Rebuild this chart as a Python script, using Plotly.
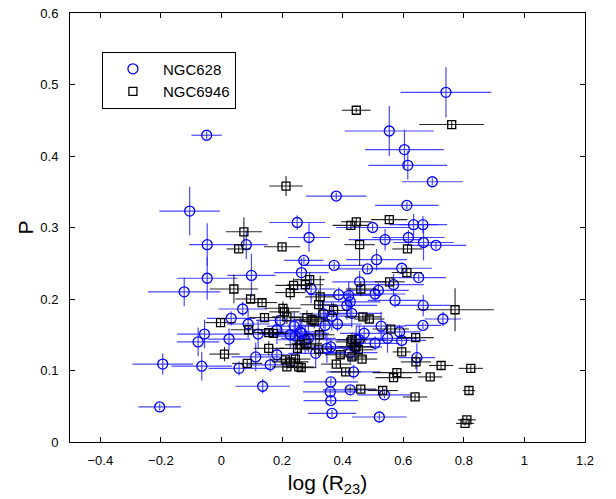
import plotly.graph_objects as go

# NGC628 (blue circles): log(R23), P, x-error, y-error
n628_x = [-0.049, 0.741, 0.554, 0.604, 0.615, 0.696, 0.379, 0.612, 0.634, 0.665,
          0.499, -0.105, 0.25, -0.047, 0.082, 0.289, 0.272, 0.264, 0.372, 0.099,
          -0.047, -0.123, 0.07, 0.032, 0.088, -0.056, -0.077, 0.025, 0.121, -0.194,
          -0.065, 0.058, 0.113, 0.161, 0.183, 0.136, -0.204, 0.361, 0.359, 0.361,
          0.365, 0.194, 0.24, 0.26, 0.183, 0.311, 0.361, 0.337, 0.387, 0.383,
          0.296, 0.42, 0.425, 0.43, 0.44, 0.436, 0.425, 0.445, 0.54, 0.617,
          0.667, 0.708, 0.512, 0.482, 0.595, 0.651, 0.568, 0.456, 0.518, 0.507,
          0.573, 0.666, 0.731, 0.665, 0.527, 0.588, 0.471, 0.548, 0.595, 0.507,
          0.455, 0.645, 0.538, 0.521, 0.414, 0.227, 0.244, 0.265, 0.276, 0.287,
          0.348, 0.342, 0.364, 0.425]
n628_y = [0.429, 0.489, 0.435, 0.409, 0.387, 0.364, 0.344, 0.331, 0.304, 0.304,
          0.300, 0.323, 0.307, 0.276, 0.276, 0.286, 0.254, 0.237, 0.247, 0.233,
          0.229, 0.210, 0.186, 0.173, 0.165, 0.151, 0.140, 0.144, 0.151, 0.109,
          0.106, 0.103, 0.119, 0.108, 0.122, 0.078, 0.049, 0.084, 0.070, 0.058,
          0.040, 0.170, 0.162, 0.154, 0.157, 0.124, 0.133, 0.179, 0.206, 0.165,
          0.214, 0.205, 0.196, 0.180, 0.133, 0.098, 0.073, 0.143, 0.283, 0.286,
          0.279, 0.275, 0.255, 0.242, 0.243, 0.230, 0.220, 0.224, 0.212, 0.207,
          0.198, 0.191, 0.172, 0.163, 0.162, 0.154, 0.152, 0.145, 0.142, 0.138,
          0.143, 0.118, 0.066, 0.035, 0.191, 0.150, 0.148, 0.152, 0.143, 0.145,
          0.131, 0.163, 0.176, 0.125]
n628_ex = [0.05, 0.15, 0.147, 0.13, 0.13, 0.10, 0.10, 0.105, 0.08, 0.08,
           0.12, 0.10, 0.092, 0.06, 0.07, 0.07, 0.065, 0.09, 0.10, 0.08,
           0.10, 0.12, 0.08, 0.08, 0.07, 0.09, 0.07, 0.07, 0.10, 0.10,
           0.10, 0.10, 0.08, 0.08, 0.07, 0.09, 0.07, 0.09, 0.09, 0.09,
           0.08, 0.08, 0.09, 0.08, 0.08, 0.09, 0.09, 0.08, 0.10, 0.08,
           0.08, 0.10, 0.10, 0.10, 0.09, 0.09, 0.09, 0.10, 0.12, 0.12,
           0.10, 0.10, 0.10, 0.10, 0.10, 0.09, 0.10, 0.09, 0.10, 0.10,
           0.09, 0.09, 0.06, 0.06, 0.08, 0.07, 0.08, 0.10, 0.08, 0.08,
           0.08, 0.06, 0.09, 0.09, 0.10, 0.09, 0.09, 0.09, 0.09, 0.09,
           0.09, 0.09, 0.08, 0.09]
n628_ey = [0.005, 0.035, 0.035, 0.028, 0.02, 0.005, 0.005, 0.005, 0.015, 0.012,
           0.005, 0.034, 0.01, 0.03, 0.02, 0.02, 0.005, 0.02, 0.005, 0.03,
           0.03, 0.02, 0.01, 0.01, 0.02, 0.02, 0.02, 0.015, 0.02, 0.015,
           0.02, 0.01, 0.02, 0.01, 0.01, 0.01, 0.005, 0.005, 0.005, 0.005,
           0.005, 0.02, 0.02, 0.02, 0.02, 0.02, 0.01, 0.02, 0.01, 0.01,
           0.02, 0.02, 0.02, 0.02, 0.02, 0.01, 0.005, 0.02, 0.015, 0.01,
           0.025, 0.005, 0.015, 0.005, 0.005, 0.005, 0.015, 0.015, 0.01, 0.01,
           0.01, 0.015, 0.01, 0.005, 0.02, 0.01, 0.01, 0.02, 0.01, 0.01,
           0.02, 0.02, 0.005, 0.005, 0.02, 0.02, 0.02, 0.02, 0.02, 0.02,
           0.02, 0.02, 0.02, 0.015]

# NGC6946 (black squares)
n6946_x = [0.445, 0.76, 0.445, 0.427, 0.554, 0.213, 0.074, 0.057, 0.2, 0.041,
           0.096, 0.134, 0.238, 0.227, 0.291, 0.277, 0.326, 0.321, 0.203, 0.208,
           0.216, 0.142, -0.003, 0.09, 0.156, 0.172, 0.282, 0.299, 0.306, 0.37,
           0.156, 0.01, 0.085, 0.211, 0.227, 0.263, 0.251, 0.26, 0.282, 0.321,
           0.379, 0.392, 0.456, 0.614, 0.612, 0.555, 0.46, 0.771, 0.467, 0.488,
           0.559, 0.641, 0.427, 0.444, 0.452, 0.431, 0.464, 0.41, 0.595, 0.642,
           0.725, 0.823, 0.579, 0.568, 0.689, 0.46, 0.532, 0.639, 0.817, 0.81,
           0.804, 0.244, 0.255, 0.216, 0.323, 0.431]
n6946_y = [0.464, 0.444, 0.308, 0.303, 0.311, 0.358, 0.294, 0.270, 0.273, 0.214,
           0.200, 0.195, 0.219, 0.209, 0.227, 0.220, 0.203, 0.192, 0.187, 0.182,
           0.175, 0.174, 0.167, 0.157, 0.153, 0.152, 0.174, 0.171, 0.169, 0.184,
           0.131, 0.123, 0.110, 0.115, 0.112, 0.104, 0.131, 0.136, 0.138, 0.130,
           0.109, 0.122, 0.276, 0.270, 0.237, 0.224, 0.214, 0.185, 0.175, 0.172,
           0.158, 0.146, 0.140, 0.133, 0.129, 0.119, 0.116, 0.098, 0.126, 0.112,
           0.107, 0.103, 0.097, 0.090, 0.091, 0.074, 0.072, 0.063, 0.072, 0.031,
           0.026, 0.116, 0.105, 0.105, 0.150, 0.143]
n6946_ex = [0.047, 0.107, 0.05, 0.06, 0.06, 0.055, 0.06, 0.04, 0.06, 0.08,
            0.05, 0.05, 0.06, 0.05, 0.05, 0.06, 0.05, 0.06, 0.06, 0.05,
            0.05, 0.05, 0.05, 0.06, 0.05, 0.05, 0.06, 0.06, 0.05, 0.05,
            0.05, 0.05, 0.05, 0.05, 0.06, 0.05, 0.06, 0.05, 0.05, 0.05,
            0.05, 0.05, 0.05, 0.05, 0.05, 0.05, 0.05, 0.128, 0.06, 0.05,
            0.06, 0.06, 0.05, 0.06, 0.05, 0.05, 0.05, 0.05, 0.03, 0.05,
            0.04, 0.04, 0.08, 0.06, 0.04, 0.05, 0.05, 0.04, 0.02, 0.03,
            0.03, 0.05, 0.05, 0.05, 0.05, 0.05]
n6946_ey = [0.003, 0.005, 0.005, 0.005, 0.005, 0.014, 0.02, 0.005, 0.005, 0.02,
            0.005, 0.005, 0.01, 0.01, 0.01, 0.01, 0.03, 0.02, 0.01, 0.01,
            0.01, 0.005, 0.005, 0.005, 0.005, 0.005, 0.01, 0.01, 0.01, 0.01,
            0.01, 0.01, 0.005, 0.005, 0.005, 0.005, 0.02, 0.01, 0.01, 0.01,
            0.005, 0.005, 0.03, 0.005, 0.005, 0.005, 0.01, 0.03, 0.005, 0.005,
            0.005, 0.005, 0.01, 0.01, 0.01, 0.005, 0.005, 0.005, 0.005, 0.01,
            0.005, 0.005, 0.005, 0.005, 0.005, 0.005, 0.005, 0.005, 0.005, 0.005,
            0.003, 0.005, 0.005, 0.005, 0.01, 0.01]

x_ticks = [-0.4, -0.2, 0, 0.2, 0.4, 0.6, 0.8, 1, 1.2]
x_tick_text = ["\u22120.4", "\u22120.2", "0", "0.2", "0.4", "0.6", "0.8", "1", "1.2"]
y_ticks = [0, 0.1, 0.2, 0.3, 0.4, 0.5, 0.6]
y_tick_text = ["0", "0.1", "0.2", "0.3", "0.4", "0.5", "0.6"]

FONT = "Liberation Sans, Arial, Helvetica, sans-serif"

fig = go.Figure()
fig.add_trace(go.Scatter(
    x=n628_x, y=n628_y, mode="markers", name="NGC628",
    marker=dict(symbol="circle-open", size=10, color="#0000ff", line=dict(width=1.3, color="#0000ff")),
    error_x=dict(type="data", array=n628_ex, color="rgba(40,40,255,0.85)", thickness=1.2, width=0),
    error_y=dict(type="data", array=n628_ey, color="rgba(40,40,255,0.85)", thickness=1.2, width=0),
))
fig.add_trace(go.Scatter(
    x=n6946_x, y=n6946_y, mode="markers", name="NGC6946",
    marker=dict(symbol="square-open", size=8, color="#000000", line=dict(width=1.3, color="#000000")),
    error_x=dict(type="data", array=n6946_ex, color="rgba(0,0,0,0.85)", thickness=1.1, width=0),
    error_y=dict(type="data", array=n6946_ey, color="rgba(0,0,0,0.85)", thickness=1.1, width=0),
))

axis_common = dict(showline=True, linecolor="black", linewidth=1, mirror="ticks",
                   ticks="inside", ticklen=5, tickcolor="black", showgrid=False,
                   zeroline=False, automargin=False,
                   tickfont=dict(family=FONT, size=13, color="black"))
fig.update_xaxes(range=[-0.5, 1.2], tickvals=x_ticks, ticktext=x_tick_text,
                 ticklabelstandoff=6,
                 title=dict(text="log (R<sub>23</sub>)", font=dict(family=FONT, size=21, color="black"), standoff=8),
                 **axis_common)
fig.update_yaxes(range=[0, 0.6], tickvals=y_ticks, ticktext=y_tick_text,
                 ticklabelstandoff=8,
                 title=dict(text="P", font=dict(family=FONT, size=21, color="black"), standoff=0),
                 **axis_common)
fig.update_layout(
    width=616, height=499, margin=dict(l=70, r=31, t=13, b=57),
    paper_bgcolor="white", plot_bgcolor="white",
    font=dict(family=FONT, color="black"),
    showlegend=True,
    legend=dict(x=0.062, y=0.91, xanchor="left", yanchor="top",
                bordercolor="black", borderwidth=1, bgcolor="white",
                font=dict(family=FONT, size=15, color="black"), itemwidth=50),
)
fig.write_html("out.html")
